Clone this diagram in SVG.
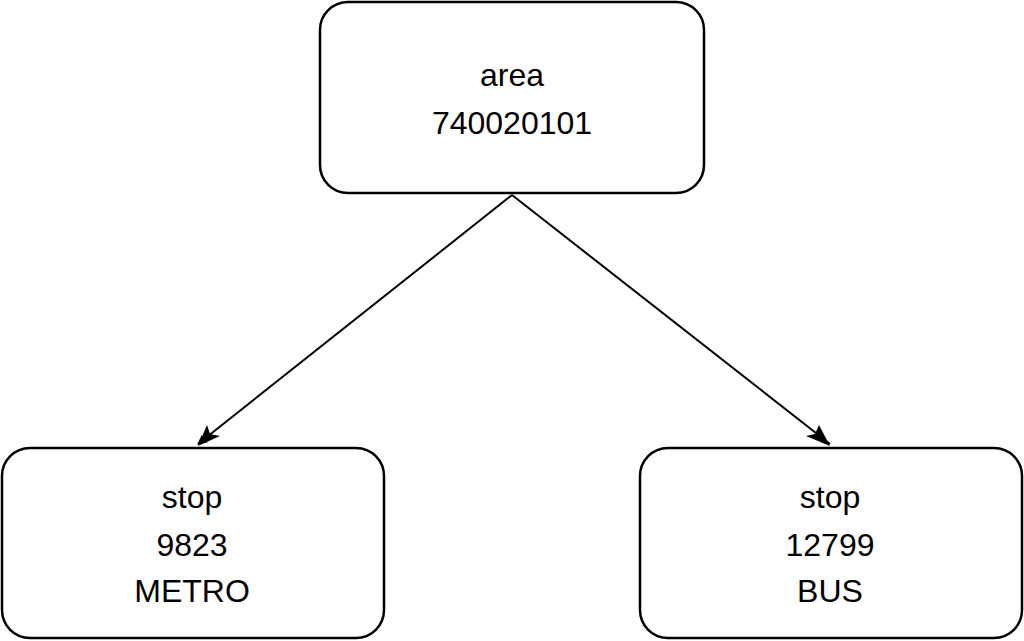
<svg xmlns="http://www.w3.org/2000/svg" width="1024" height="641" viewBox="0 0 1024 641">
<defs>
<style>
.box{fill:#fff;stroke:#000;stroke-width:2.5}
.t{font-family:"Liberation Sans",Arial,sans-serif;font-size:32px;text-anchor:middle;fill:#000}
.c{stroke:#000;stroke-width:2;fill:none}
</style>
<marker id="a" viewBox="0 0 10 10" refX="9" refY="5" markerWidth="10" markerHeight="10" markerUnits="userSpaceOnUse" orient="auto"><path d="M0,0 L10,5 L0,10 L3,5 Z" fill="#000"/></marker>
</defs>
<rect width="1024" height="641" fill="#fff"/>
<g id="connectors">
<line class="c" x1="512" y1="195" x2="198" y2="444" marker-end="url(#a)" style="marker-end:url(#a)"/>
<line class="c" x1="512" y1="195" x2="830" y2="444"/>
<path d="M198,446 L207,425 L210,434 L220,436 Z" fill="#000"/>
<path d="M830,446 L806,436 L815,434 L819,425 Z" fill="#000"/>
</g>
<g id="area"><rect class="box" x="320" y="2" width="384" height="191" rx="28"/>
<text class="t" x="512" y="86">area</text><text class="t" x="512" y="134">740020101</text></g>
<g id="stop1"><rect class="box" x="2" y="448" width="382" height="190" rx="28"/>
<text class="t" x="192" y="508">stop</text><text class="t" x="192" y="556">9823</text><text class="t" x="192" y="602">METRO</text></g>
<g id="stop2"><rect class="box" x="640" y="448" width="382" height="190" rx="28"/>
<text class="t" x="830" y="508">stop</text><text class="t" x="830" y="556">12799</text><text class="t" x="830" y="602">BUS</text></g>
</svg>
